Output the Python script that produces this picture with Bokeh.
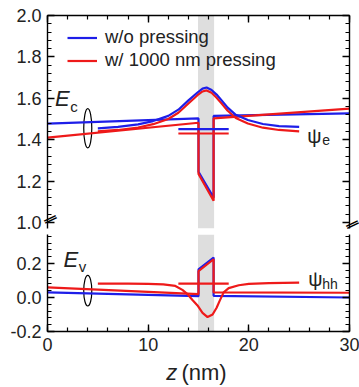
import numpy as np
from bokeh.plotting import figure
from bokeh.layouts import column
from bokeh.models import (Range1d, LinearAxis, FixedTicker, PrintfTickFormatter,
                          CustomJSTickFormatter, BoxAnnotation, Label, Legend, LegendItem)
from bokeh.embed import file_html
from bokeh.resources import INLINE

# ---------------- data ----------------
# quantum-well region (grey band)
band_left, band_right = 14.95, 16.55

# conduction band edge Ec
ec_x = [0, 15.0, 15.0, 16.5, 16.5, 30]
ec_blue = [1.478, 1.503, 1.245, 1.12, 1.515, 1.527]
ec_red = [1.41, 1.482, 1.235, 1.105, 1.503, 1.55]

# electron wavefunction psi_e
psi_e_x = [5, 7, 9, 10.5, 12, 13, 14, 14.9, 15.4, 15.8, 16.3, 16.8, 17.3, 17.9, 18.7, 19.9, 21.4, 23, 25]
psi_e_blue = [1.455, 1.462, 1.474, 1.49, 1.515, 1.545, 1.59, 1.628, 1.647, 1.652, 1.64, 1.618,
              1.59, 1.555, 1.52, 1.495, 1.476, 1.466, 1.462]
psi_e_red = [1.44, 1.447, 1.459, 1.475, 1.50, 1.53, 1.575, 1.615, 1.633, 1.638, 1.627, 1.603,
             1.575, 1.54, 1.505, 1.478, 1.458, 1.447, 1.44]
# electron levels
lev_x = [13.0, 18.0]
lev_e_blue = [1.451, 1.451]
lev_e_red = [1.43, 1.43]

# valence band edge Ev
ev_x = [0, 15.0, 15.0, 16.5, 16.5, 30]
ev_blue = [0.03, 0.008, 0.165, 0.235, 0.01, 0.0]
ev_red = [0.06, 0.02, 0.155, 0.225, 0.03, 0.028]

# heavy-hole wavefunction psi_hh (with pressing)
psi_hh_x = [5, 8, 10, 11.5, 12.7, 13.4, 13.9, 14.4, 14.9, 15.4, 15.9, 16.4, 16.8, 17.1, 17.5, 18, 19, 20, 22, 25]
psi_hh_red = [0.082, 0.082, 0.08, 0.077, 0.068, 0.045, 0.02, -0.015, -0.047, -0.09, -0.115, -0.10,
              -0.06, -0.02, 0.03, 0.055, 0.072, 0.08, 0.085, 0.088]
lev_hh_red = [0.082, 0.082]

# ticks
x_ticks = [0, 10, 20, 30]
x_minor = list(range(0, 31, 2))
top_yticks = [1.0, 1.2, 1.4, 1.6, 1.8, 2.0]
top_yminor = list(np.round(np.arange(1.0, 2.0001, 0.04), 3))
bot_yticks = [-0.2, 0.0, 0.2]
bot_yminor = list(np.round(np.arange(-0.2, 0.4001, 0.04), 3))

FONT = "Liberation Sans"
BLUE = "#1e1ee8"
RED = "#ee1a1a"
GREY = "#dedede"
TXT = "#222222"
LW = 2.2

# layout (pixels)
ML, FW, MR = 47, 302, 10
TOP_FH, TOP_PPU = 213, 207.0
BOT_FH, BOT_PPU = 97, 170.0
top_y0 = 2.0 - TOP_FH / TOP_PPU
break_y = [top_y0 + 0.0006]


def make_axis(ticks, minor, labels, fmt):
    ax = LinearAxis(ticker=FixedTicker(ticks=ticks, minor_ticks=minor))
    ax.axis_line_color = "black"
    ax.axis_line_width = 1.4
    ax.major_tick_in = 7
    ax.major_tick_out = 0
    ax.minor_tick_in = 4
    ax.minor_tick_out = 0
    ax.major_tick_line_width = 1.4
    ax.minor_tick_line_width = 1.2
    ax.major_label_text_font = FONT
    ax.major_label_text_color = TXT
    if labels:
        ax.formatter = PrintfTickFormatter(format=fmt)
        ax.major_label_text_font_size = "18px"
        ax.major_label_standoff = 6
    else:
        ax.formatter = CustomJSTickFormatter(code="return ''")
        ax.major_label_text_font_size = "1px"
        ax.major_label_standoff = 0
    return ax


def break_axis(standoff):
    ax = LinearAxis(ticker=FixedTicker(ticks=break_y, minor_ticks=[]))
    ax.axis_line_color = None
    ax.major_tick_line_color = None
    ax.minor_tick_line_color = None
    ax.major_tick_in = 0
    ax.major_tick_out = 0
    ax.minor_tick_in = 0
    ax.minor_tick_out = 0
    ax.formatter = CustomJSTickFormatter(code="return '\u2017'")
    ax.major_label_orientation = 0.45
    ax.major_label_text_font = FONT
    ax.major_label_text_font_size = "22px"
    ax.major_label_text_color = "black"
    ax.major_label_standoff = standoff
    return ax


def base_fig(yr, fh, mt, mb, band=True):
    p = figure(frame_width=FW, frame_height=fh, x_range=Range1d(0, 30), y_range=Range1d(*yr),
               x_axis_location=None, y_axis_location=None, output_backend="svg",
               toolbar_location=None, min_border_left=ML, min_border_right=MR,
               min_border_top=mt, min_border_bottom=mb)
    p.outline_line_color = None
    p.xgrid.visible = False
    p.ygrid.visible = False
    if band:
        p.add_layout(BoxAnnotation(left=band_left, right=band_right, fill_color=GREY, fill_alpha=1.0,
                                   line_color=None, level="underlay"))
    return p


# ---------------- top panel (Ec) ----------------
p1 = base_fig((top_y0, 2.0), TOP_FH, 15, 6)
p1.add_layout(make_axis(top_yticks, top_yminor, True, "%.1f"), "left")
p1.add_layout(break_axis(-38), "left")
p1.add_layout(make_axis(top_yticks, top_yminor, False, "%.1f"), "right")
p1.add_layout(break_axis(-7), "right")
p1.add_layout(make_axis(x_ticks, x_minor, False, "%d"), "above")

p1.ellipse(x=[4.0], y=[1.455], width=0.8, height=0.19, fill_color=None, line_color="black", line_width=1.2)

rb = p1.line(ec_x, ec_blue, line_color=BLUE, line_width=LW)
rr = p1.line(ec_x, ec_red, line_color=RED, line_width=LW)
p1.line(psi_e_x, psi_e_red, line_color=RED, line_width=LW)
p1.line(psi_e_x, psi_e_blue, line_color=BLUE, line_width=LW)
p1.line(lev_x, lev_e_blue, line_color=BLUE, line_width=LW)
p1.line(lev_x, lev_e_red, line_color=RED, line_width=LW)

legend = Legend(items=[LegendItem(label="w/o pressing", renderers=[rb]),
                       LegendItem(label="w/ 1000 nm pressing", renderers=[rr])],
                location=(20, TOP_FH - 56), padding=0, spacing=1, glyph_width=30, glyph_height=21,
                label_height=21, label_standoff=8,
                border_line_color=None, background_fill_alpha=0.0,
                label_text_font=FONT, label_text_font_size="18.5px", label_text_color=TXT)
p1.add_layout(legend)

p1.add_layout(Label(x=0.75, y=1.60, text="E", text_font=FONT, text_font_style="italic",
                    text_font_size="22px", text_baseline="middle", text_color=TXT))
p1.add_layout(Label(x=2.25, y=1.56, text="c", text_font=FONT, text_font_size="15px",
                    text_baseline="middle", text_color=TXT))
p1.add_layout(Label(x=25.8, y=1.42, text="ψ", text_font=FONT, text_font_size="20px",
                    text_baseline="middle", text_color=TXT))
p1.add_layout(Label(x=27.3, y=1.40, text="e", text_font=FONT, text_font_size="14px",
                    text_baseline="middle", text_color=TXT))

# ---------------- bottom panel (Ev) ----------------
p2 = base_fig((-0.2, -0.2 + BOT_FH / BOT_PPU), BOT_FH, 0, 26)
p2.add_layout(make_axis(bot_yticks, bot_yminor, True, "%.1f"), "left")
p2.add_layout(make_axis(bot_yticks, bot_yminor, False, "%.1f"), "right")
p2.add_layout(make_axis(x_ticks, x_minor, True, "%d"), "below")

p2.ellipse(x=[4.0], y=[0.04], width=0.8, height=0.18, fill_color=None, line_color="black", line_width=1.2)

p2.line(ev_x, ev_blue, line_color=BLUE, line_width=LW)
p2.line(ev_x, ev_red, line_color=RED, line_width=LW)
p2.line(psi_hh_x, psi_hh_red, line_color=RED, line_width=LW)
p2.line(lev_x, lev_hh_red, line_color=RED, line_width=LW)

p2.add_layout(Label(x=1.6, y=0.225, text="E", text_font=FONT, text_font_style="italic",
                    text_font_size="22px", text_baseline="middle", text_color=TXT))
p2.add_layout(Label(x=3.1, y=0.183, text="v", text_font=FONT, text_font_size="15px",
                    text_baseline="middle", text_color=TXT))
p2.add_layout(Label(x=25.9, y=0.107, text="ψ", text_font=FONT, text_font_size="20px",
                    text_baseline="middle", text_color=TXT))
p2.add_layout(Label(x=27.3, y=0.082, text="hh", text_font=FONT, text_font_size="14px",
                    text_baseline="middle", text_color=TXT))

# ---------------- x-axis title strip ----------------
p3 = base_fig((0, 30), 30, 0, 0, band=False)
p3.add_layout(Label(x=11.8, y=15.5, text="z", text_font=FONT, text_font_style="italic",
                    text_font_size="22px", text_baseline="middle", text_color=TXT))
p3.add_layout(Label(x=13.3, y=15.5, text="(nm)", text_font=FONT,
                    text_font_size="22px", text_baseline="middle", text_color=TXT))

layout = column(p1, p2, p3, spacing=0)
open("out.html", "w").write(file_html(layout, INLINE))
